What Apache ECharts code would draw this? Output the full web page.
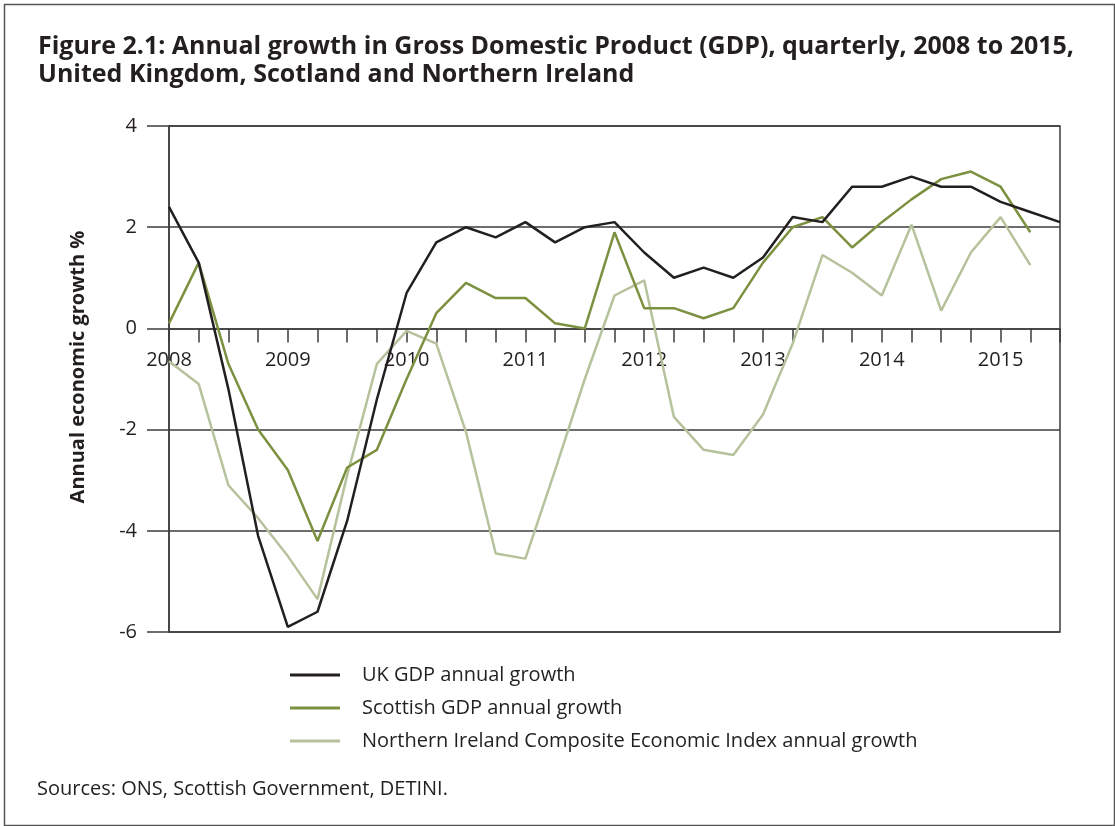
<!DOCTYPE html>
<html>
<head>
<meta charset="utf-8">
<script src="https://cdn.jsdelivr.net/npm/echarts@6/dist/echarts.min.js"></script>
<style>
html,body{margin:0;padding:0;background:#fff;}
#chart{width:1115px;height:826px;}
</style>
</head>
<body>
<div id="chart"></div>
<script>
// Quarterly categories 2008 Q1 .. 2015 Q3
const quarters = [
  '2008 Q1','2008 Q2','2008 Q3','2008 Q4',
  '2009 Q1','2009 Q2','2009 Q3','2009 Q4',
  '2010 Q1','2010 Q2','2010 Q3','2010 Q4',
  '2011 Q1','2011 Q2','2011 Q3','2011 Q4',
  '2012 Q1','2012 Q2','2012 Q3','2012 Q4',
  '2013 Q1','2013 Q2','2013 Q3','2013 Q4',
  '2014 Q1','2014 Q2','2014 Q3','2014 Q4',
  '2015 Q1','2015 Q2','2015 Q3'
];
const yTicks = [-6, -4, -2, 0, 2, 4];

const ukGrowth = [
  2.4, 1.3, -1.2, -4.1,
  -5.9, -5.6, -3.8, -1.4,
  0.7, 1.7, 2.0, 1.8,
  2.1, 1.7, 2.0, 2.1,
  1.5, 1.0, 1.2, 1.0,
  1.4, 2.2, 2.1, 2.8,
  2.8, 3.0, 2.8, 2.8,
  2.5, 2.3, 2.1
];
const scotGrowth = [
  0.1, 1.3, -0.7, -2.0,
  -2.8, -4.2, -2.75, -2.4,
  -1.0, 0.3, 0.9, 0.6,
  0.6, 0.1, 0.0, 1.9,
  0.4, 0.4, 0.2, 0.4,
  1.3, 2.0, 2.2, 1.6,
  2.1, 2.55, 2.95, 3.1,
  2.8, 1.9, null
];
const niGrowth = [
  -0.65, -1.1, -3.1, -3.75,
  -4.5, -5.35, -2.9, -0.7,
  -0.05, -0.3, -2.05, -4.45,
  -4.55, -2.8, -1.0, 0.65,
  0.95, -1.75, -2.4, -2.5,
  -1.7, -0.3, 1.45, 1.1,
  0.65, 2.05, 0.35, 1.5,
  2.2, 1.25, null
];

const seriesNames = [
  'UK GDP annual growth',
  'Scottish GDP annual growth',
  'Northern Ireland Composite Economic Index annual growth'
];
const seriesColors = ['#231f20', '#7b9140', '#b6c29c'];

const chart = echarts.init(document.getElementById('chart'));
const axisColor = '#3d3d3d';
const font = '"Open Sans", "Noto Sans", sans-serif';

const gridTop = 126, gridBottom = 194, chartH = 826;
const plotH = chartH - gridTop - gridBottom;
const yMin = yTicks[0], yMax = yTicks[yTicks.length - 1];
const zeroOffset = plotH * (0 - yMin) / (yMax - yMin);

chart.setOption({
  animation: false,
  backgroundColor: '#ffffff',
  textStyle: { fontFamily: font },
  title: {
    text: 'Figure 2.1: Annual growth in Gross Domestic Product (GDP), quarterly, 2008 to 2015,\nUnited Kingdom, Scotland and Northern Ireland',
    left: 33,
    top: 28,
    textStyle: {
      fontFamily: font,
      fontSize: 25,
      fontWeight: 'bold',
      color: '#231f20',
      lineHeight: 28
    }
  },
  graphic: [
    {
      type: 'rect',
      left: 2, top: 2,
      shape: { x: 0, y: 0, width: 1110, height: 821 },
      style: { fill: 'none', stroke: '#555', lineWidth: 1.5 },
      silent: true
    },
    {
      type: 'text',
      left: 37,
      top: 779,
      style: {
        text: 'Sources: ONS, Scottish Government, DETINI.',
        font: '20px ' + font,
        fill: '#231f20'
      }
    },
    {
      type: 'text',
      x: 78,
      y: 367,
      rotation: Math.PI / 2,
      style: {
        text: 'Annual economic growth %',
        font: 'bold 20px ' + font,
        fill: '#231f20',
        align: 'center',
        verticalAlign: 'middle'
      }
    }
  ],
  legend: {
    orient: 'vertical',
    left: 285,
    top: 660,
    itemWidth: 50,
    itemHeight: 3,
    itemGap: 13,
    icon: 'rect',
    textStyle: { fontFamily: font, fontSize: 20, color: '#231f20', padding: [0, 0, 0, 17] },
    data: seriesNames
  },
  grid: {
    left: 169,
    right: 55,
    top: gridTop,
    bottom: gridBottom,
    show: true,
    borderColor: axisColor,
    borderWidth: 1.5,
    backgroundColor: 'transparent'
  },
  xAxis: {
    type: 'category',
    data: quarters,
    boundaryGap: false,
    position: 'bottom',
    offset: -zeroOffset,
    axisLine: { onZero: false, lineStyle: { color: axisColor, width: 1.5 } },
    axisTick: { show: true, interval: 0, length: 14, inside: false, lineStyle: { color: axisColor, width: 1.5 } },
    axisLabel: {
      interval: 3,
      margin: 22,
      fontSize: 20,
      fontFamily: font,
      color: '#231f20',
      formatter: function (v) { return v.split(' ')[0]; }
    },
    splitLine: { show: false }
  },
  yAxis: {
    type: 'value',
    min: yMin,
    max: yMax,
    interval: 2,
    axisLine: { show: true, lineStyle: { color: axisColor, width: 1.5 } },
    axisTick: { show: true, length: 22, inside: false, lineStyle: { color: axisColor, width: 1.5 } },
    axisLabel: { margin: 32, fontSize: 20, fontFamily: font, color: '#231f20' },
    splitLine: { show: true, lineStyle: { color: axisColor, width: 1.5 } }
  },
  series: [
    { name: seriesNames[0], type: 'line', data: ukGrowth, symbol: 'none', color: seriesColors[0], lineStyle: { width: 2.5, color: seriesColors[0] }, z: 4 },
    { name: seriesNames[1], type: 'line', data: scotGrowth, symbol: 'none', color: seriesColors[1], lineStyle: { width: 2.5, color: seriesColors[1] }, z: 3 },
    { name: seriesNames[2], type: 'line', data: niGrowth, symbol: 'none', color: seriesColors[2], lineStyle: { width: 2.5, color: seriesColors[2] }, z: 2 }
  ]
});
</script>
</body>
</html>
